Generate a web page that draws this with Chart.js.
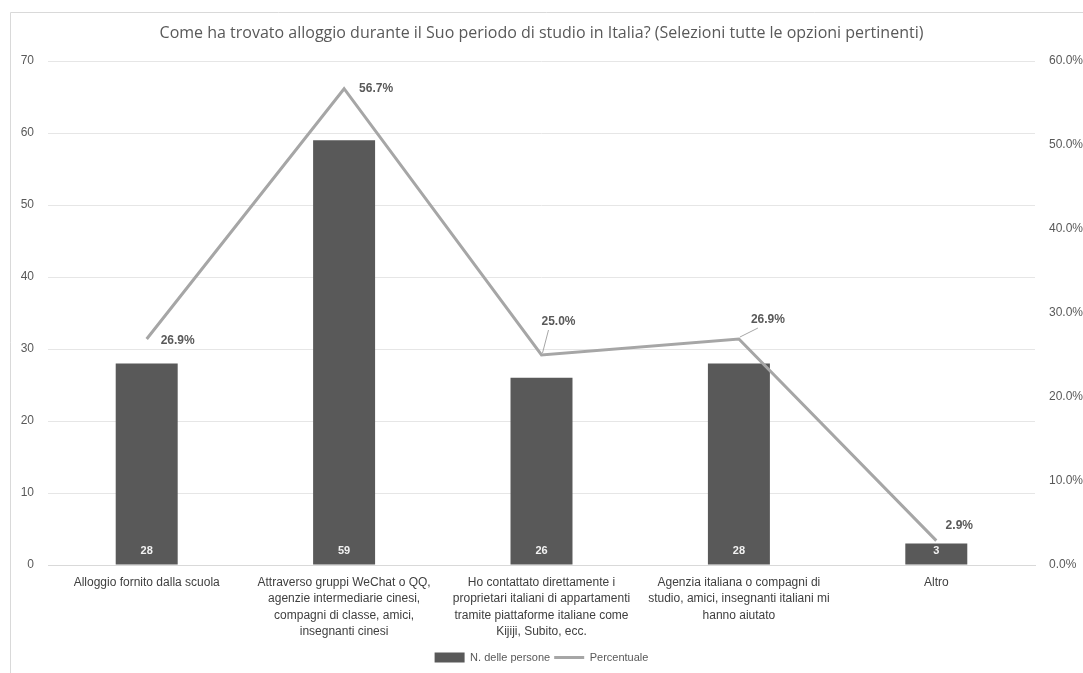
<!DOCTYPE html>
<html>
<head>
<meta charset="utf-8">
<script src="https://cdn.jsdelivr.net/npm/chart.js@4.4.1/dist/chart.umd.min.js"></script>
<style>
  html, body { margin: 0; padding: 0; background: #fff; }
  #wrap { width: 1083px; height: 673px; position: relative; }
</style>
</head>
<body>
<div id="wrap"><canvas id="chart"></canvas></div>
<script>
const CATEGORIES = [
  "Alloggio fornito dalla scuola",
  ["Attraverso gruppi WeChat o QQ,", "agenzie intermediarie cinesi,", "compagni di classe, amici,", "insegnanti cinesi"],
  ["Ho contattato direttamente i", "proprietari italiani di appartamenti", "tramite piattaforme italiane come", "Kijiji, Subito, ecc."],
  ["Agenzia italiana o compagni di", "studio, amici, insegnanti italiani mi", "hanno aiutato"],
  "Altro"
];
const PERSONE = [28, 59, 26, 28, 3];
const PERCENTUALE = [26.9, 56.7, 25.0, 26.9, 2.9];
const LEFT_TICKS = [0, 10, 20, 30, 40, 50, 60, 70];
const RIGHT_TICKS = [0, 10, 20, 30, 40, 50, 60];

// where each percent label sits relative to its point, and whether it gets a leader line
const PCT_LABEL_OFFSETS = [
  { dx: 31, dy: 2, leader: false },
  { dx: 32, dy: 0, leader: false },
  { dx: 17, dy: -33, leader: true },
  { dx: 29, dy: -19, leader: true },
  { dx: 23, dy: -15, leader: false }
];

const FONT = "'Liberation Sans', Arial, sans-serif";
const TEXT_GREY = '#595959';

const framePlugin = {
  id: 'frame',
  beforeDraw(chart) {
    const ctx = chart.ctx;
    ctx.save();
    ctx.strokeStyle = '#d9d9d9';
    ctx.lineWidth = 1;
    ctx.beginPath();
    ctx.moveTo(10.5, 673);
    ctx.lineTo(10.5, 12.5);
    ctx.lineTo(1083, 12.5);
    ctx.stroke();
    ctx.restore();
  }
};

const labelsPlugin = {
  id: 'valueLabels',
  afterDatasetsDraw(chart) {
    const ctx = chart.ctx;
    ctx.save();
    // bar values inside the bars, near the base
    const barMeta = chart.getDatasetMeta(0);
    ctx.font = 'bold 11px ' + FONT;
    ctx.fillStyle = '#f2f2f2';
    ctx.textAlign = 'center';
    ctx.textBaseline = 'middle';
    barMeta.data.forEach((bar, i) => {
      ctx.fillText(String(PERSONE[i]), bar.x, bar.base - 14);
    });
    // percent labels for the line
    const lineMeta = chart.getDatasetMeta(1);
    lineMeta.data.forEach((pt, i) => {
      const o = PCT_LABEL_OFFSETS[i];
      const lx = pt.x + o.dx;
      const ly = pt.y + o.dy;
      if (o.leader) {
        ctx.strokeStyle = '#a6a6a6';
        ctx.lineWidth = 1;
        ctx.beginPath();
        ctx.moveTo(pt.x + 1, pt.y - 2);
        ctx.lineTo(lx - 10, ly + 8);
        ctx.stroke();
      }
      ctx.font = 'bold 12px ' + FONT;
      ctx.fillStyle = TEXT_GREY;
      ctx.textAlign = 'center';
      ctx.textBaseline = 'middle';
      ctx.fillText(PERCENTUALE[i].toFixed(1) + '%', lx, ly);
    });
    ctx.restore();
  }
};

const chart = new Chart(document.getElementById('chart'), {
  type: 'bar',
  data: {
    labels: CATEGORIES,
    datasets: [
      {
        label: 'N. delle persone',
        data: PERSONE,
        backgroundColor: '#595959',
        borderWidth: 0,
        categoryPercentage: 1,
        barPercentage: 0.314,
        yAxisID: 'y',
        pointStyle: 'rect',
        order: 1
      },
      {
        type: 'line',
        label: 'Percentuale',
        data: PERCENTUALE,
        borderColor: '#a6a6a6',
        backgroundColor: '#a6a6a6',
        borderWidth: 3,
        pointRadius: 0,
        pointStyle: 'line',
        tension: 0,
        yAxisID: 'y1',
        order: 0
      }
    ]
  },
  options: {
    responsive: true,
    maintainAspectRatio: false,
    animation: false,
    layout: { padding: { top: 0, bottom: 0, left: 0, right: 0 } },
    plugins: {
      title: {
        display: true,
        text: 'Come ha trovato alloggio durante il Suo periodo di studio in Italia? (Selezioni tutte le opzioni pertinenti)',
        color: TEXT_GREY,
        font: { family: "'Open Sans', sans-serif", size: 16, weight: 'normal' },
        padding: { top: 24, bottom: 17.8 }
      },
      legend: {
        position: 'bottom',
        labels: {
          color: TEXT_GREY,
          font: { family: FONT, size: 11 },
          usePointStyle: true,
          pointStyleWidth: 30,
          boxHeight: 10,
          padding: 4,
          sort: (a, b) => a.datasetIndex - b.datasetIndex
        }
      },
      tooltip: { enabled: false }
    },
    scales: {
      x: {
        grid: { display: false, drawTicks: false },
        border: { color: '#d9d9d9' },
        ticks: {
          color: '#404040',
          font: { family: FONT, size: 12, lineHeight: 1.38 },
          maxRotation: 0,
          autoSkip: false,
          padding: 9
        },
        afterFit: (scale) => { scale.height = 83; }
      },
      y: {
        position: 'left',
        min: 0,
        max: 70,
        grid: { color: '#e6e6e6', drawTicks: false },
        border: { display: false },
        afterBuildTicks: (scale) => { scale.ticks = LEFT_TICKS.map(v => ({ value: v })); },
        ticks: {
          color: TEXT_GREY,
          font: { family: FONT, size: 12 },
          padding: 14
        },
        afterFit: (scale) => { scale.width = 48; }
      },
      y1: {
        position: 'right',
        min: 0,
        max: 60,
        grid: { display: false, drawTicks: false },
        border: { display: false },
        afterBuildTicks: (scale) => { scale.ticks = RIGHT_TICKS.map(v => ({ value: v })); },
        ticks: {
          color: TEXT_GREY,
          font: { family: FONT, size: 12 },
          padding: 14,
          callback: (v) => Number(v).toFixed(1) + '%'
        },
        afterFit: (scale) => { scale.width = 48; }
      }
    }
  },
  plugins: [framePlugin, labelsPlugin]
});
</script>
</body>
</html>
